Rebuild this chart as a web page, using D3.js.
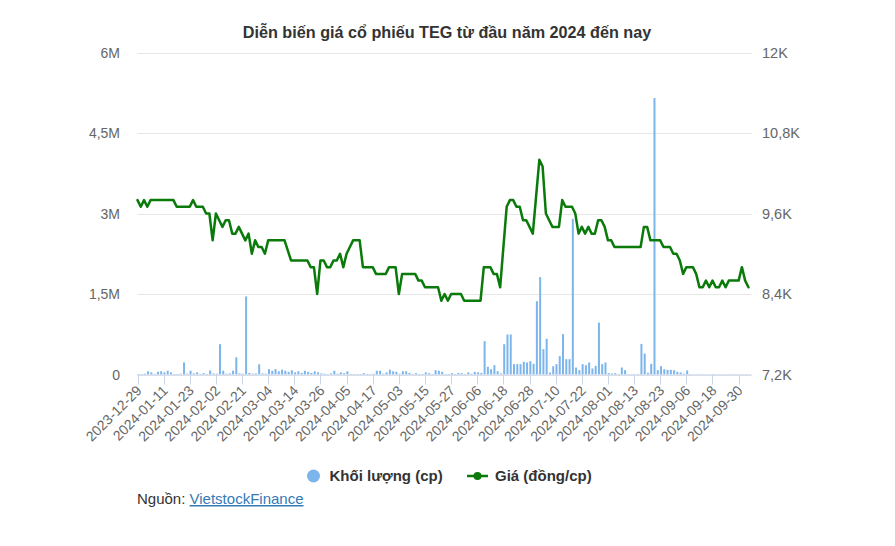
<!DOCTYPE html>
<html>
<head>
<meta charset="utf-8">
<script src="https://cdn.jsdelivr.net/npm/d3@7"></script>
<style>
  html, body { margin: 0; padding: 0; background: #fff; }
  svg { display: block; font-family: "Liberation Sans", Arial, sans-serif; }
</style>
</head>
<body>
<svg id="chart" width="895" height="546"></svg>
<script>
// ---------- DATA ----------
const title = "Diễn biến giá cổ phiếu TEG từ đầu năm 2024 đến nay";

const dates = [
  "2023-12-29",
  "2024-01-02","2024-01-03","2024-01-04","2024-01-05",
  "2024-01-08","2024-01-09","2024-01-10","2024-01-11","2024-01-12",
  "2024-01-15","2024-01-16","2024-01-17","2024-01-18","2024-01-19",
  "2024-01-22","2024-01-23","2024-01-24","2024-01-25","2024-01-26",
  "2024-01-29","2024-01-30","2024-01-31","2024-02-01","2024-02-02",
  "2024-02-05","2024-02-06","2024-02-07","2024-02-15","2024-02-16",
  "2024-02-19","2024-02-20","2024-02-21","2024-02-22","2024-02-23",
  "2024-02-26","2024-02-27","2024-02-28","2024-02-29","2024-03-01",
  "2024-03-04","2024-03-05","2024-03-06","2024-03-07","2024-03-08",
  "2024-03-11","2024-03-12","2024-03-13","2024-03-14","2024-03-15",
  "2024-03-18","2024-03-19","2024-03-20","2024-03-21","2024-03-22",
  "2024-03-25","2024-03-26","2024-03-27","2024-03-28","2024-03-29",
  "2024-04-01","2024-04-02","2024-04-03","2024-04-04","2024-04-05",
  "2024-04-08","2024-04-09","2024-04-10","2024-04-11","2024-04-12",
  "2024-04-15","2024-04-16","2024-04-17","2024-04-19",
  "2024-04-22","2024-04-23","2024-04-24","2024-04-25","2024-04-26",
  "2024-05-02","2024-05-03",
  "2024-05-06","2024-05-07","2024-05-08","2024-05-09","2024-05-10",
  "2024-05-13","2024-05-14","2024-05-15","2024-05-16","2024-05-17",
  "2024-05-20","2024-05-21","2024-05-22","2024-05-23","2024-05-24",
  "2024-05-27","2024-05-28","2024-05-29","2024-05-30","2024-05-31",
  "2024-06-03","2024-06-04","2024-06-05","2024-06-06","2024-06-07",
  "2024-06-10","2024-06-11","2024-06-12","2024-06-13","2024-06-14",
  "2024-06-17","2024-06-18","2024-06-19","2024-06-20","2024-06-21",
  "2024-06-24","2024-06-25","2024-06-26","2024-06-27","2024-06-28",
  "2024-07-01","2024-07-02","2024-07-03","2024-07-04","2024-07-05",
  "2024-07-08","2024-07-09","2024-07-10","2024-07-11","2024-07-12",
  "2024-07-15","2024-07-16","2024-07-17","2024-07-18","2024-07-19",
  "2024-07-22","2024-07-23","2024-07-24","2024-07-25","2024-07-26",
  "2024-07-29","2024-07-30","2024-07-31","2024-08-01","2024-08-02",
  "2024-08-05","2024-08-06","2024-08-07","2024-08-08","2024-08-09",
  "2024-08-12","2024-08-13","2024-08-14","2024-08-15","2024-08-16",
  "2024-08-19","2024-08-20","2024-08-21","2024-08-22","2024-08-23",
  "2024-08-26","2024-08-27","2024-08-28","2024-08-29","2024-08-30",
  "2024-09-04","2024-09-05","2024-09-06",
  "2024-09-09","2024-09-10","2024-09-11","2024-09-12","2024-09-13",
  "2024-09-16","2024-09-17","2024-09-18","2024-09-19","2024-09-20",
  "2024-09-23","2024-09-24","2024-09-25","2024-09-26","2024-09-27",
  "2024-09-30","2024-10-01","2024-10-02","2024-10-03"
];

// Volume (thousand shares)
const volume = [
  10,10,15,60,40,10,50,60,40,70,
  40,10,10,15,225,15,70,20,40,10,
  25,10,75,20,15,565,70,15,20,70,
  320,20,15,1455,30,15,20,190,20,15,
  100,70,100,60,90,70,50,80,40,60,
  30,70,50,30,60,40,20,15,10,20,
  70,15,40,25,60,10,10,10,10,25,
  10,10,15,70,70,15,40,90,60,50,
  15,60,60,30,10,25,10,10,40,25,
  10,80,70,50,10,10,25,10,30,25,
  10,40,15,50,40,30,622,143,99,174,
  62,20,565,745,745,193,193,193,236,224,
  249,199,1366,1815,472,665,37,155,193,342,
  753,286,286,2900,130,81,193,174,224,112,
  161,967,193,224,25,20,25,10,130,81,
  5,5,5,10,570,390,30,199,5150,81,
  155,99,87,87,81,50,37,15,75,8,
  5,5,8,5,5,5,8,5,5,5,
  5,8,5,5,5,5,5,5
];

// Price (VND / share)
const price = [
  9800,9700,9800,9700,9800,9800,9800,9800,9800,9800,
  9800,9800,9700,9700,9700,9700,9700,9800,9700,9700,
  9700,9600,9600,9200,9600,9500,9400,9500,9500,9300,
  9300,9400,9300,9200,9300,9000,9200,9100,9100,9000,
  9200,9200,9200,9200,9200,9200,9050,8900,8900,8900,
  8900,8900,8900,8800,8800,8400,8900,8900,8800,8800,
  8900,8900,9000,8800,9000,9100,9200,9200,9200,8800,
  8800,8800,8800,8700,8700,8700,8700,8800,8800,8800,
  8400,8700,8700,8700,8700,8700,8600,8600,8500,8500,
  8500,8500,8500,8300,8400,8300,8400,8400,8400,8400,
  8300,8300,8300,8300,8300,8300,8800,8800,8800,8700,
  8700,8500,9100,9700,9800,9800,9700,9700,9500,9500,
  9400,9300,9850,10400,10300,9600,9500,9400,9400,9400,
  9800,9700,9700,9700,9600,9300,9400,9300,9400,9300,
  9300,9500,9500,9400,9200,9200,9100,9100,9100,9100,
  9100,9100,9100,9100,9100,9400,9400,9200,9200,9200,
  9200,9100,9100,9100,9000,9000,8900,8700,8800,8800,
  8800,8700,8500,8500,8600,8500,8600,8500,8500,8600,
  8500,8600,8600,8600,8600,8800,8600,8500
];

const xTickLabels = [
  "2023-12-29","2024-01-11","2024-01-23","2024-02-02","2024-02-21","2024-03-04",
  "2024-03-14","2024-03-26","2024-04-05","2024-04-17","2024-05-03","2024-05-15",
  "2024-05-27","2024-06-06","2024-06-18","2024-06-28","2024-07-10","2024-07-22",
  "2024-08-01","2024-08-13","2024-08-23","2024-09-06","2024-09-18","2024-09-30"
];
const volTicks = [0, 1500, 3000, 4500, 6000];
const volTickLabels = ["0", "1,5M", "3M", "4,5M", "6M"];
const priceTicks = [7200, 8400, 9600, 10800, 12000];
const priceTickLabels = ["7,2K", "8,4K", "9,6K", "10,8K", "12K"];

const legendVolume = "Khối lượng (cp)";
const legendPrice = "Giá (đồng/cp)";
const sourceLabel = "Nguồn: ";
const sourceLink = "VietstockFinance";

// ---------- LAYOUT ----------
const plotLeft = 137.5, plotRight = 751.7, plotTop = 52.5, plotBottom = 374.5;
const svg = d3.select("#chart");

const x = d3.scaleLinear().domain([0, dates.length]).range([plotLeft, plotRight]);
const yV = d3.scaleLinear().domain([0, 6000]).range([plotBottom, plotTop]);
const yP = d3.scaleLinear().domain([7200, 12000]).range([plotBottom, plotTop]);

// Title
svg.append("text")
  .attr("x", 447).attr("y", 38)
  .attr("text-anchor", "middle")
  .attr("font-size", 16.2).attr("font-weight", "bold")
  .attr("fill", "#333")
  .text(title);

// Gridlines
svg.append("g").selectAll("line").data(volTicks).join("line")
  .attr("x1", plotLeft).attr("x2", plotRight)
  .attr("y1", d => Math.round(yV(d)) + 0.5).attr("y2", d => Math.round(yV(d)) + 0.5)
  .attr("stroke", "#e6e6e6").attr("stroke-width", 1);

// Left axis labels
svg.append("g").selectAll("text").data(volTicks).join("text")
  .attr("x", 120).attr("y", d => yV(d) + 5)
  .attr("text-anchor", "end")
  .attr("font-size", 14).attr("fill", "#666")
  .text((d, i) => volTickLabels[i]);

// Right axis labels
svg.append("g").selectAll("text").data(priceTicks).join("text")
  .attr("x", 762).attr("y", d => yP(d) + 5)
  .attr("text-anchor", "start")
  .attr("font-size", 14.5).attr("fill", "#666")
  .text((d, i) => priceTickLabels[i]);

// Volume bars
svg.append("g").selectAll("rect").data(volume).join("rect")
  .attr("x", (d, i) => x(i) - 0.2)
  .attr("width", 2)
  .attr("y", d => yV(d))
  .attr("height", d => plotBottom - yV(d))
  .attr("fill", "#7cb5ec");

// X axis line + ticks
svg.append("line")
  .attr("x1", plotLeft).attr("x2", plotRight)
  .attr("y1", plotBottom + 0.5).attr("y2", plotBottom + 0.5)
  .attr("stroke", "#ccd6eb");

const tickIdx = xTickLabels.map(l => dates.indexOf(l));
svg.append("g").selectAll("line").data(tickIdx).join("line")
  .attr("x1", d => Math.round(x(d)) + 0.5).attr("x2", d => Math.round(x(d)) + 0.5)
  .attr("y1", plotBottom).attr("y2", plotBottom + 10)
  .attr("stroke", "#ccd6eb");

svg.append("g").selectAll("text").data(tickIdx).join("text")
  .attr("transform", d => `translate(${x(d) + 5},${plotBottom + 17}) rotate(-45)`)
  .attr("text-anchor", "end")
  .attr("font-size", 14).attr("fill", "#666")
  .text((d, i) => xTickLabels[i]);

// Price line
const line = d3.line().x((d, i) => x(i)).y(d => yP(d));
svg.append("path")
  .datum(price)
  .attr("d", line)
  .attr("fill", "none")
  .attr("stroke", "#0a7a0a")
  .attr("stroke-width", 2.5)
  .attr("stroke-linejoin", "round")
  .attr("stroke-linecap", "round");

// Legend
const lg = svg.append("g");
lg.append("circle").attr("cx", 313.5).attr("cy", 476).attr("r", 6.5).attr("fill", "#7cb5ec");
lg.append("text").attr("x", 329.5).attr("y", 481).attr("font-size", 15).attr("font-weight", "bold")
  .attr("fill", "#333").text(legendVolume);
lg.append("line").attr("x1", 467).attr("x2", 488).attr("y1", 476).attr("y2", 476)
  .attr("stroke", "#0a7a0a").attr("stroke-width", 2.5);
lg.append("circle").attr("cx", 477.5).attr("cy", 476).attr("r", 4).attr("fill", "#0a7a0a");
lg.append("text").attr("x", 495).attr("y", 481).attr("font-size", 15).attr("font-weight", "bold")
  .attr("fill", "#333").text(legendPrice);

// Source
const src = svg.append("text").attr("x", 137).attr("y", 504).attr("font-size", 15).attr("fill", "#333");
src.append("tspan").text(sourceLabel);
src.append("tspan").attr("fill", "#337ab7").attr("text-decoration", "underline").text(sourceLink);
</script>
</body>
</html>
